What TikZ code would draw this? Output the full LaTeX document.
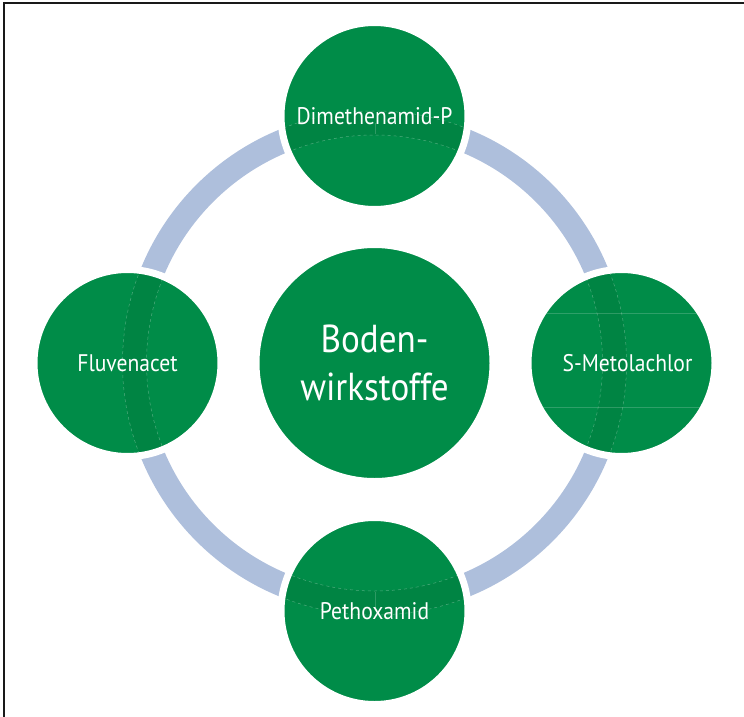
\documentclass[tikz,border=0pt]{standalone}
\usepackage{fontspec}
\setmainfont{PT Sans}[FakeStretch=0.9]
\definecolor{leafgreen}{RGB}{0,140,72}
\definecolor{bandgreen}{RGB}{0,132,67}
\definecolor{ringblue}{RGB}{174,191,220}
\definecolor{framegray}{RGB}{25,25,25}
\tikzset{
  bubble/.style={circle, fill=leafgreen, draw=white, line width=7pt,
    inner sep=0pt, minimum size=187pt, text=white,
    font=\fontsize{24}{28}\selectfont,
    path picture={
      \fill[bandgreen, even odd rule] (C) circle[radius=252pt] (C) circle[radius=228pt];
      \draw[white, opacity=0.3, line width=0.5pt, dash pattern=on 3pt off 3pt]
        (C) circle[radius=252pt] (C) circle[radius=228pt];
    }},
  hub/.style={circle, fill=leafgreen, draw=white, line width=7pt,
    inner sep=0pt, minimum size=237pt, text=white, align=center,
    font=\fontsize{39}{48}\selectfont},
  seam/.style={white, opacity=0.18, line width=0.5pt}
}
\begin{document}
\begin{tikzpicture}[x=1pt, y=-1pt]
  \useasboundingbox (0,0) rectangle (744,717);
  % frame along the left and top edges
  \draw[framegray, line width=2pt] (3.5,717) -- (3.5,3.5) -- (744,3.5);
  \coordinate (C) at (374.5,363);
  % the ring joining the four outer circles
  \fill[ringblue, even odd rule] (C) circle[radius=252pt] (C) circle[radius=228pt];
  % centre
  \node[hub] (boden) at (C) {Boden-\\wirkstoffe};
  % outer circles
  \node[bubble] (dmp)  at (374.5,116) {Dimethenamid-P};
  \node[bubble] (smet) at (621.5,363) {\hspace{12pt}S-Metolachlor};
  \node[bubble] (peth) at (374.5,611) {Pethoxamid};
  \node[bubble] (fluv) at (127.5,363) {Fluvenacet};
  % faint seams inside the circles
  \draw[seam] (375,123) -- (375,134);
  \draw[seam] (375,592) -- (375,608);
  \begin{scope}
    \clip (smet.center) circle[radius=90pt];
    \draw[seam] (520,313.5) -- (720,313.5);
    \draw[seam] (520,407.5) -- (720,407.5);
  \end{scope}
\end{tikzpicture}
\end{document}
